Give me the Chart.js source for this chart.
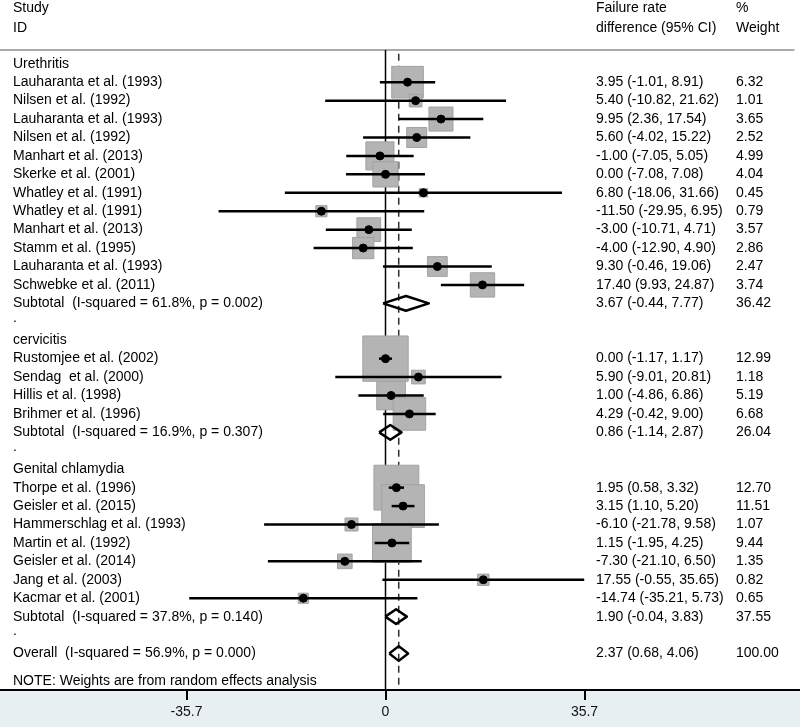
<!DOCTYPE html>
<html>
<head>
<meta charset="utf-8">
<title>Failure rate difference - forest plot</title>
<script src="https://cdn.jsdelivr.net/npm/chart.js@4.4.1/dist/chart.umd.min.js"></script>
<style>
  html, body { margin: 0; padding: 0; background: #fff; }
  #chart { display: block; }
</style>
</head>
<body>
<canvas id="chart" width="800" height="727"></canvas>
<script>
// studies (row = line number in the plot, 0 = "Urethritis")
const studyNames = [
    'Lauharanta et al. (1993)', 'Nilsen et al. (1992)', 'Lauharanta et al. (1993)', 'Nilsen et al. (1992)',
    'Manhart et al. (2013)', 'Skerke et al. (2001)', 'Whatley et al. (1991)', 'Whatley et al. (1991)',
    'Manhart et al. (2013)', 'Stamm et al. (1995)', 'Lauharanta et al. (1993)', 'Schwebke et al. (2011)',
    'Rustomjee et al. (2002)', 'Sendag  et al. (2000)', 'Hillis et al. (1998)', 'Brihmer et al. (1996)',
    'Thorpe et al. (1996)', 'Geisler et al. (2015)', 'Hammerschlag et al. (1993)', 'Martin et al. (1992)',
    'Geisler et al. (2014)', 'Jang et al. (2003)', 'Kacmar et al. (2001)'
];
const studyRows = [1, 2, 3, 4, 5, 6, 7, 8, 9, 10, 11, 12, 16, 17, 18, 19, 23, 24, 25, 26, 27, 28, 29];
const estimates = [3.95, 5.40, 9.95, 5.60, -1.00, 0.00, 6.80, -11.50, -3.00, -4.00, 9.30, 17.40,
    0.00, 5.90, 1.00, 4.29, 1.95, 3.15, -6.10, 1.15, -7.30, 17.55, -14.74];
const lowerCI = [-1.01, -10.82, 2.36, -4.02, -7.05, -7.08, -18.06, -29.95, -10.71, -12.90, -0.46, 9.93,
    -1.17, -9.01, -4.86, -0.42, 0.58, 1.10, -21.78, -1.95, -21.10, -0.55, -35.21];
const upperCI = [8.91, 21.62, 17.54, 15.22, 5.05, 7.08, 31.66, 6.95, 4.71, 4.90, 19.06, 24.87,
    1.17, 20.81, 6.86, 9.00, 3.32, 5.20, 9.58, 4.25, 6.50, 35.65, 5.73];
const weights = [6.32, 1.01, 3.65, 2.52, 4.99, 4.04, 0.45, 0.79, 3.57, 2.86, 2.47, 3.74,
    12.99, 1.18, 5.19, 6.68, 12.70, 11.51, 1.07, 9.44, 1.35, 0.82, 0.65];

// subgroups
const groupNames = ['Urethritis', 'cervicitis', 'Genital chlamydia'];
const groupRows = [0, 15, 22];
const dotRows = [14, 21, 31];

// subtotals + overall (pooled diamonds)
const pooledLabels = [
    'Subtotal  (I-squared = 61.8%, p = 0.002)',
    'Subtotal  (I-squared = 16.9%, p = 0.307)',
    'Subtotal  (I-squared = 37.8%, p = 0.140)',
    'Overall  (I-squared = 56.9%, p = 0.000)'
];
const pooledRows = [13, 20, 30, 32];
const pooledEst = [3.67, 0.86, 1.90, 2.37];
const pooledLo = [-0.44, -1.14, -0.04, 0.68];
const pooledHi = [7.77, 2.87, 3.83, 4.06];
const pooledWeights = [36.42, 26.04, 37.55, 100.00];

const xTicks = [-35.7, 0, 35.7];
const noteText = 'NOTE: Weights are from random effects analysis';

// scale limits (full canvas width is the plot region)
const xMin = -69.16, xMax = 74.36;
const yMin = -3.46, yMax = 33.98;
const topRule = -0.75;
const overallEst = pooledEst[3];

const FONT = '14px Arial, "Liberation Sans", sans-serif';

// grey boxes, CI lines and points
const studyPts = studyRows.map((r, i) => ({ x: estimates[i], y: r }));
const datasets = [];

datasets.push({
    type: 'scatter',
    data: studyPts,
    pointStyle: 'circle',
    pointRadius: 4,
    backgroundColor: '#000',
    borderColor: '#000',
    borderWidth: 1,
    order: 1
});

studyRows.forEach((r, i) => {
    datasets.push({
        type: 'line',
        data: [{ x: lowerCI[i], y: r }, { x: upperCI[i], y: r }],
        borderColor: '#000',
        borderWidth: 2.5,
        pointRadius: 0,
        fill: false,
        order: 2
    });
});

pooledRows.forEach((r, i) => {
    const h = 0.4;
    datasets.push({
        type: 'line',
        data: [
            { x: pooledLo[i], y: r }, { x: pooledEst[i], y: r - h },
            { x: pooledHi[i], y: r }, { x: pooledEst[i], y: r + h },
            { x: pooledLo[i], y: r }
        ],
        borderColor: '#000',
        borderWidth: 2.5,
        borderJoinStyle: 'round',
        pointRadius: 0,
        fill: false,
        order: 2
    });
});

datasets.push({
    type: 'scatter',
    data: studyPts,
    pointStyle: 'rect',
    // box area proportional to weight
    pointRadius: weights.map(w => 8.9 * Math.sqrt(w)),
    backgroundColor: '#b4b4b4',
    borderColor: '#a2a2a2',
    borderWidth: 1,
    order: 4
});

// no-effect line and overall dashed line
datasets.push({
    type: 'line',
    data: [{ x: 0, y: topRule }, { x: 0, y: yMax }],
    borderColor: '#000',
    borderWidth: 1.5,
    pointRadius: 0,
    fill: false,
    order: 6
});
datasets.push({
    type: 'line',
    data: [{ x: overallEst, y: topRule + 0.2 }, { x: overallEst, y: yMax - 0.1 }],
    borderColor: '#3a2a2a',
    borderWidth: 1.5,
    borderDash: [7, 5],
    pointRadius: 0,
    fill: false,
    order: 6
});
// grey rule under the header
datasets.push({
    type: 'line',
    data: [{ x: xMin, y: topRule }, { x: xMax - 1, y: topRule }],
    borderColor: '#a9a9a9',
    borderWidth: 2,
    pointRadius: 0,
    fill: false,
    order: 7
});

function ciText(e, lo, hi) {
    return `${e.toFixed(2)} (${lo.toFixed(2)}, ${hi.toFixed(2)})`;
}

// background: white plot, light blue under the axis
const backgroundPlugin = {
    id: 'bg',
    beforeDraw(chart) {
        const ctx = chart.ctx;
        const area = chart.chartArea;
        ctx.save();
        ctx.fillStyle = '#fff';
        ctx.fillRect(0, 0, chart.width, chart.height);
        ctx.fillStyle = '#e8eff3';
        ctx.fillRect(0, area.bottom, chart.width, chart.height - area.bottom);
        ctx.restore();
    }
};

// text columns, placed on the rows of the y scale
const textPlugin = {
    id: 'forestText',
    afterDraw(chart) {
        const ctx = chart.ctx;
        const ys = chart.scales.y;
        const colLeft = 13, colCI = 596, colW = 736;
        const put = (txt, x, row) => ctx.fillText(txt, x, ys.getPixelForValue(row));
        ctx.save();
        ctx.fillStyle = '#000';
        ctx.font = FONT;
        ctx.textBaseline = 'middle';
        ctx.textAlign = 'left';
        // header
        put('Study', colLeft, -3.03);
        put('ID', colLeft, -1.94);
        put('Failure rate', colCI, -3.03);
        put('difference (95% CI)', colCI, -1.94);
        put('%', colW, -3.03);
        put('Weight', colW, -1.94);
        groupNames.forEach((g, i) => put(g, colLeft, groupRows[i]));
        dotRows.forEach(r => put('.', colLeft, r - 0.2));
        studyNames.forEach((s, i) => {
            put(s, colLeft, studyRows[i]);
            put(ciText(estimates[i], lowerCI[i], upperCI[i]), colCI, studyRows[i]);
            put(weights[i].toFixed(2), colW, studyRows[i]);
        });
        pooledLabels.forEach((s, i) => {
            put(s, colLeft, pooledRows[i]);
            put(ciText(pooledEst[i], pooledLo[i], pooledHi[i]), colCI, pooledRows[i]);
            put(pooledWeights[i].toFixed(2), colW, pooledRows[i]);
        });
        put(noteText, colLeft, 33.5);
        ctx.restore();
    }
};

new Chart(document.getElementById('chart'), {
    type: 'scatter',
    data: { datasets: datasets },
    options: {
        responsive: false,
        animation: false,
        devicePixelRatio: 1,
        events: [],
        layout: { padding: 0, autoPadding: false },
        plugins: {
            legend: { display: false },
            tooltip: { enabled: false }
        },
        scales: {
            x: {
                type: 'linear',
                position: 'bottom',
                min: xMin,
                max: xMax,
                afterBuildTicks: s => { s.ticks = xTicks.map(v => ({ value: v })); },
                afterFit: s => { s.height = 37; },
                grid: {
                    display: true,
                    drawOnChartArea: false,
                    drawTicks: true,
                    tickLength: 10,
                    color: '#000',
                    lineWidth: 2
                },
                border: { display: true, color: '#000', width: 2 },
                ticks: {
                    color: '#111',
                    font: { family: 'Arial, "Liberation Sans", sans-serif', size: 14 },
                    padding: 4,
                    maxRotation: 0,
                    autoSkip: false,
                    callback: v => String(v)
                }
            },
            y: {
                type: 'linear',
                min: yMin,
                max: yMax,
                reverse: true,
                display: false
            }
        }
    },
    plugins: [backgroundPlugin, textPlugin]
});
</script>
</body>
</html>
